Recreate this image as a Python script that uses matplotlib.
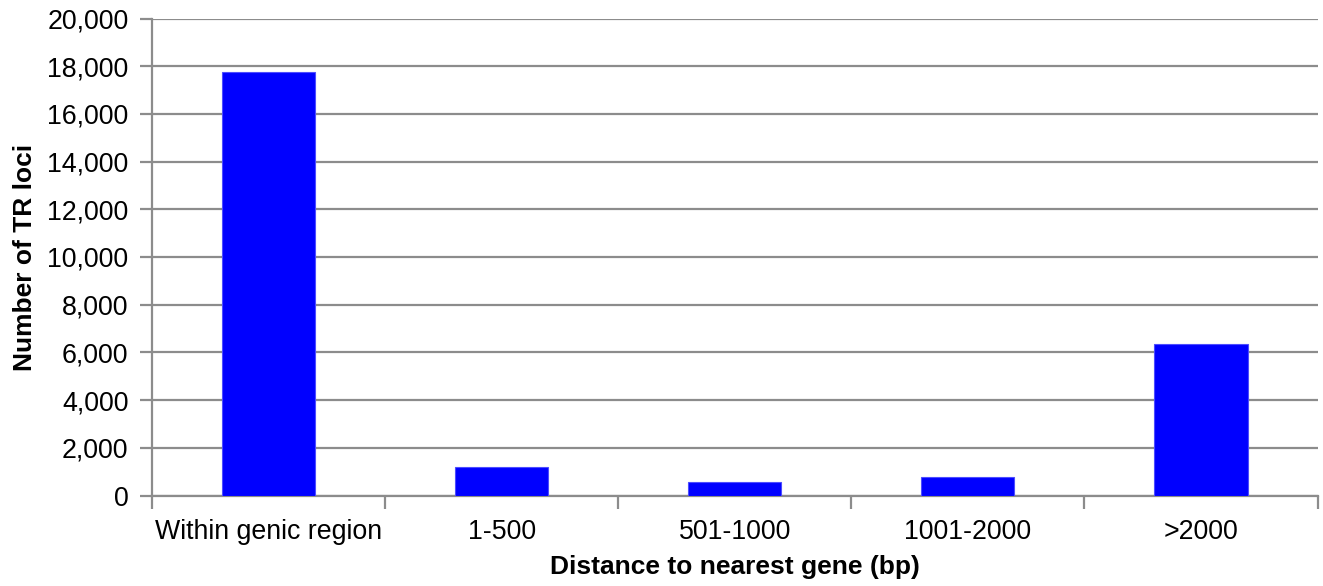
import matplotlib
matplotlib.use("Agg")
import matplotlib.pyplot as plt
from matplotlib.ticker import FuncFormatter, MultipleLocator

categories = ["Within genic region", "1-500", "501-1000", "1001-2000", ">2000"]
counts = [17750, 1200, 580, 760, 6350]

plt.rcParams['font.family'] = ['Liberation Sans', 'DejaVu Sans']

fig = plt.figure(figsize=(13.23, 5.86), dpi=100)
ax = fig.add_axes([152/1323, 1 - 495.5/586, (1317.5 - 152)/1323, (495.5 - 18.5)/586])

grid_c = '#8c8c8c'
x = range(len(categories))
ax.bar(x, counts, width=0.4, color='#0000ff', edgecolor='#4d4dff', linewidth=0.8, zorder=3)

ax.set_xlim(-0.5, len(categories) - 0.5)
ax.set_ylim(0, 20000)
ax.yaxis.set_major_locator(MultipleLocator(2000))
ax.yaxis.set_major_formatter(FuncFormatter(lambda v, p: f"{int(v):,}"))
ax.grid(axis='y', color=grid_c, linewidth=1.6, zorder=0)

ax.set_xticks(list(x))
ax.set_xticklabels(categories)
ax.set_xticks([i - 0.5 for i in range(len(categories) + 1)], minor=True)
ax.tick_params(axis='x', which='major', length=0, pad=17, labelsize=19.3)
ax.tick_params(axis='x', which='minor', length=9, width=1.6, color=grid_c, direction='out')
ax.tick_params(axis='y', length=9, width=1.6, color=grid_c, pad=8, labelsize=19.3)

for s in ['top', 'right']:
    ax.spines[s].set_visible(False)
for s in ['left', 'bottom']:
    ax.spines[s].set_color(grid_c)
    ax.spines[s].set_linewidth(1.6)

ax.set_xlabel("Distance to nearest gene (bp)", fontsize=19, fontweight='bold', labelpad=7)
ax.set_ylabel("Number of TR loci", fontsize=19, fontweight='bold', labelpad=7)

fig.savefig("out.png", dpi=100)
